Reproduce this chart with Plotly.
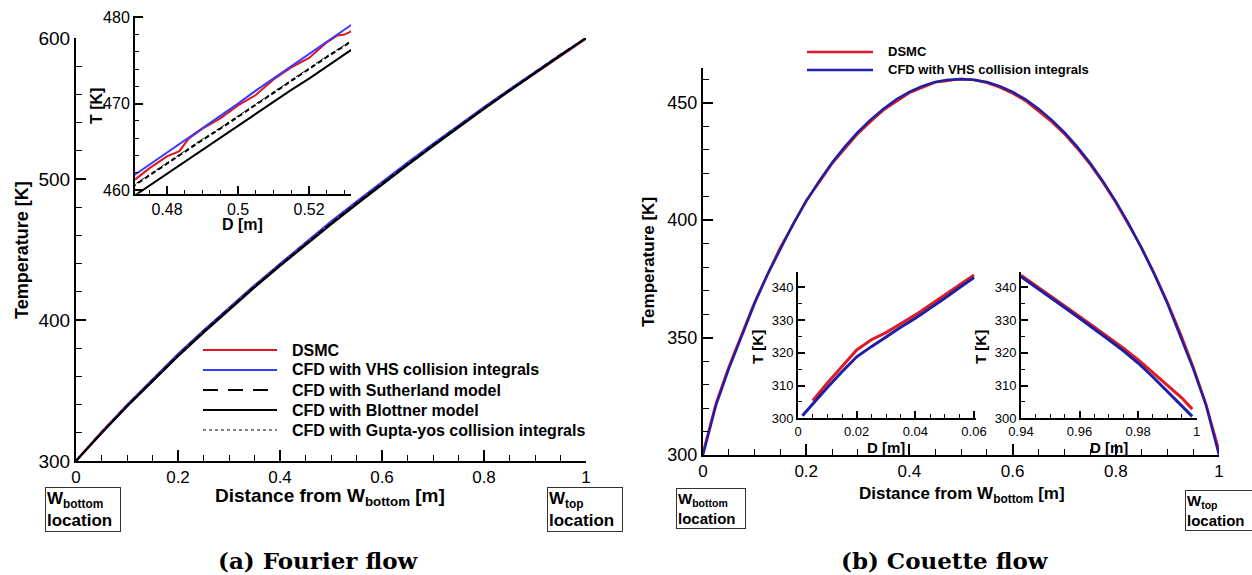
import plotly.graph_objects as go

W, H = 1252, 575


def px(x):
    return x / W


def py(y):
    return 1 - y / H


SANS = "Liberation Sans"

# ---------------- (a) Fourier flow ----------------
fourier_d = [0.00, 0.05, 0.10, 0.15, 0.20, 0.25, 0.30, 0.35, 0.40, 0.45, 0.50,
             0.55, 0.60, 0.65, 0.70, 0.75, 0.80, 0.85, 0.90, 0.95, 1.00]
fourier_dsmc = [300.3, 320.6, 339.8, 358.2, 375.9, 392.4, 408.6, 424.6, 439.6, 454.8, 469.7,
                483.5, 497.4, 511.0, 524.3, 537.3, 549.9, 562.6, 575.0, 587.4, 599.4]
fourier_vhs = [300.0, 320.3, 339.6, 358.0, 375.7, 392.6, 408.7, 424.4, 439.8, 455.0, 469.9,
               484.0, 497.9, 511.6, 524.9, 538.1, 551.0, 563.6, 576.1, 588.3, 600.0]
fourier_sutherland = [300.0, 320.0, 339.1, 357.3, 374.9, 391.8, 408.0, 423.8, 439.0, 454.0, 468.6,
                      482.8, 496.8, 510.6, 524.0, 537.3, 550.3, 563.0, 575.6, 588.0, 600.0]
fourier_blottner = [300.0, 319.7, 338.6, 356.7, 374.2, 391.0, 407.2, 423.0, 438.3, 453.3, 467.8,
                    482.0, 496.0, 509.8, 523.3, 536.6, 549.7, 562.5, 575.2, 587.7, 600.0]
fourier_gupta = [300.0, 320.0, 339.2, 357.4, 375.0, 391.9, 408.1, 423.9, 439.1, 454.1, 468.7,
                 482.9, 496.9, 510.7, 524.1, 537.4, 550.4, 563.1, 575.7, 588.1, 600.0]

# close-up around the channel centre
zoom_d = [0.470, 0.475, 0.480, 0.485, 0.490, 0.495, 0.500,
          0.505, 0.510, 0.515, 0.520, 0.525, 0.530, 0.535]
zoom_vhs = [461.5, 462.9, 464.4, 465.8, 467.2, 468.6, 470.0,
            471.5, 472.9, 474.3, 475.8, 477.2, 478.6, 480.0]
zoom_sutherland = [460.3, 461.7, 463.0, 464.4, 465.8, 467.1, 468.5,
                   469.9, 471.3, 472.6, 474.0, 475.4, 476.7, 478.1]
zoom_gupta = [460.4, 461.8, 463.1, 464.5, 465.9, 467.2, 468.6,
              470.0, 471.4, 472.7, 474.1, 475.5, 476.8, 478.2]
zoom_blottner = [459.1, 460.5, 461.9, 463.3, 464.6, 466.0, 467.4,
                 468.8, 470.2, 471.6, 472.9, 474.3, 475.7, 477.1]
zoom_dsmc_d = [0.471, 0.475, 0.480, 0.4835, 0.486, 0.490, 0.495, 0.500, 0.505,
               0.510, 0.515, 0.520, 0.525, 0.528, 0.530, 0.532, 0.535]
zoom_dsmc = [461.2, 462.5, 463.9, 464.5, 465.9, 467.1, 468.3, 469.8, 471.0,
             472.8, 474.2, 475.3, 477.1, 477.9, 478.0, 478.4, 479.2]

# ---------------- (b) Couette flow ----------------
couette_d = [0.000, 0.025, 0.050, 0.075, 0.100, 0.125, 0.150, 0.175, 0.200, 0.225,
             0.250, 0.275, 0.300, 0.325, 0.350, 0.375, 0.400, 0.425, 0.450, 0.475,
             0.500, 0.525, 0.550, 0.575, 0.600, 0.625, 0.650, 0.675, 0.700, 0.725,
             0.750, 0.775, 0.800, 0.825, 0.850, 0.875, 0.900, 0.925, 0.950, 0.975, 1.000]
couette_vhs = [300.0, 321.0, 336.7, 351.0, 364.5, 376.8, 388.0, 398.5, 408.0, 416.6,
               424.4, 431.3, 437.5, 442.8, 447.5, 451.5, 454.6, 457.1, 458.8, 459.8,
               460.0, 459.8, 458.8, 457.1, 454.6, 451.5, 447.5, 442.8, 437.5, 431.3,
               424.4, 416.6, 408.0, 398.5, 388.0, 376.8, 364.5, 351.0, 336.7, 321.0, 300.0]
couette_dsmc = [301.0, 322.0, 337.6, 351.5, 365.2, 377.0, 388.5, 398.2, 408.4, 416.0,
                424.0, 430.4, 436.8, 442.0, 446.9, 450.6, 454.2, 456.5, 458.7, 459.4,
                460.2, 459.7, 458.5, 456.6, 454.0, 450.8, 446.6, 442.0, 436.8, 430.6,
                423.8, 416.0, 407.5, 398.2, 388.3, 377.2, 365.2, 352.0, 337.6, 321.7, 302.0]

# close-ups next to each wall
wall1_vhs_d = [0.0015, 0.005, 0.010, 0.015, 0.020, 0.025, 0.030,
               0.035, 0.040, 0.045, 0.050, 0.055, 0.060]
wall1_vhs = [300.8, 304.4, 309.4, 314.2, 318.8, 321.9, 324.9,
             327.8, 330.6, 333.6, 336.7, 339.9, 343.0]
wall1_dsmc_d = [0.005, 0.010, 0.015, 0.020, 0.025, 0.030,
                0.035, 0.040, 0.045, 0.050, 0.055, 0.060]
wall1_dsmc = [305.4, 310.8, 315.8, 320.9, 324.0, 326.2,
              328.9, 331.6, 334.6, 337.6, 340.6, 343.8]
wall2_d = [0.940, 0.945, 0.950, 0.955, 0.960, 0.965, 0.970,
           0.975, 0.980, 0.985, 0.990, 0.995, 0.9985]
wall2_vhs = [343.3, 340.2, 337.0, 333.8, 330.6, 327.4, 324.0,
             320.6, 316.9, 312.7, 308.2, 303.6, 300.6]
wall2_dsmc = [343.7, 340.6, 337.4, 334.3, 331.1, 327.9, 324.7,
              321.4, 317.9, 314.0, 310.0, 306.2, 302.8]

RED = "#e3141c"
BLUE_A = "#3a3aff"
RED_B = "#e01b24"
BLUE_B = "#1f1fa6"
BLACK = "#000000"

fig = go.Figure()


def add(x, y, color, width, dash="solid", xa="x", ya="y", name=None):
    fig.add_trace(go.Scatter(x=x, y=y, mode="lines", name=name, showlegend=False,
                             line=dict(color=color, width=width, dash=dash),
                             xaxis=xa, yaxis=ya, hoverinfo="skip"))


# Fourier main
add(fourier_d, fourier_dsmc, RED, 2, name="DSMC")
add(fourier_d, fourier_vhs, BLUE_A, 2, name="CFD with VHS collision integrals")
add(fourier_d, fourier_blottner, BLACK, 2, name="CFD with Blottner model")
add(fourier_d, fourier_sutherland, BLACK, 2, "6px,3px", name="CFD with Sutherland model")
add(fourier_d, fourier_gupta, BLACK, 1, "dot", name="CFD with Gupta-yos collision integrals")

# Fourier close-up
add(zoom_dsmc_d, zoom_dsmc, RED, 2, xa="x3", ya="y3")
add(zoom_d, zoom_vhs, BLUE_A, 2, xa="x3", ya="y3")
add(zoom_d, zoom_blottner, BLACK, 2, xa="x3", ya="y3")
add(zoom_d, zoom_sutherland, BLACK, 2, "5px,3px", xa="x3", ya="y3")
add(zoom_d, zoom_gupta, BLACK, 1, "dot", xa="x3", ya="y3")

# Couette main
add(couette_d, couette_dsmc, RED_B, 2.5, xa="x2", ya="y2", name="DSMC")
add(couette_d, couette_vhs, BLUE_B, 2.5, xa="x2", ya="y2", name="CFD with VHS collision integrals")

# Couette close-ups
add(wall1_dsmc_d, wall1_dsmc, RED_B, 3, xa="x4", ya="y4")
add(wall1_vhs_d, wall1_vhs, BLUE_B, 3, xa="x4", ya="y4")
add(wall2_d, wall2_dsmc, RED_B, 3, xa="x5", ya="y5")
add(wall2_d, wall2_vhs, BLUE_B, 3, xa="x5", ya="y5")


def axis(domain, rng, tickvals, minor_dtick, minor_tick0, size, ticklen=10, minorlen=5,
         ticktext=None, anchor=None):
    d = dict(domain=domain, range=rng, tickmode="array", tickvals=tickvals,
             automargin=False,
             showline=True, linecolor="black", linewidth=2, mirror=False,
             ticks="inside", ticklen=ticklen, tickwidth=2, tickcolor="black",
             showgrid=False, zeroline=False,
             tickfont=dict(family=SANS, size=size, color="black"),
             minor=dict(ticks="inside", ticklen=minorlen, tickwidth=1, tickcolor="black",
                        dtick=minor_dtick, tick0=minor_tick0, showgrid=False),
             anchor=anchor)
    if ticktext is not None:
        d["ticktext"] = ticktext
    return d


layout = dict(
    width=W, height=H, margin=dict(l=0, r=0, t=0, b=0, pad=0, autoexpand=False),
    paper_bgcolor="white", plot_bgcolor="rgba(0,0,0,0)",
    showlegend=False,
    xaxis=axis([px(76), px(586)], [0, 1], [0, 0.2, 0.4, 0.6, 0.8, 1], 0.05, 0, 17, 11, 6,
               ticktext=["0", "0.2", "0.4", "0.6", "0.8", "1"], anchor="y"),
    yaxis=axis([py(461), py(38)], [300, 600], [300, 400, 500, 600], 20, 300, 19, 10, 6,
               anchor="x"),
    xaxis2=axis([px(703), px(1219)], [0, 1], [0, 0.2, 0.4, 0.6, 0.8, 1], 0.05, 0, 17, 11, 6,
                ticktext=["0", "0.2", "0.4", "0.6", "0.8", "1"], anchor="y2"),
    yaxis2=axis([py(455), py(68)], [300, 464.8], [300, 350, 400, 450], 10, 300, 18, 10, 6,
                anchor="x2"),
    xaxis3=axis([px(135), px(351)], [0.471, 0.5318], [0.48, 0.50, 0.52], 0.005, 0.48, 16, 8, 4,
                ticktext=["0.48", "0.5", "0.52"], anchor="y3"),
    yaxis3=axis([py(193.7), py(16)], [459.57, 480.15], [460, 470, 480], 2, 460, 16, 8, 4,
                anchor="x3"),
    xaxis4=axis([px(798), px(975.5)], [0, 0.0605], [0, 0.02, 0.04, 0.06], 0.005, 0, 13, 7, 4,
                ticktext=["0", "0.02", "0.04", "0.06"], anchor="y4"),
    yaxis4=axis([py(418.3), py(271.7)], [300, 344.8], [300, 310, 320, 330, 340], 5, 300, 13, 7, 4,
                anchor="x4"),
    xaxis5=axis([px(1021), px(1196.6)], [0.94, 1.0], [0.94, 0.96, 0.98, 1.0], 0.005, 0.94, 13, 7, 4,
                ticktext=["0.94", "0.96", "0.98", "1"], anchor="y5"),
    yaxis5=axis([py(418.3), py(271.7)], [300, 344.8], [300, 310, 320, 330, 340], 5, 300, 13, 7, 4,
                anchor="x5"),
)
fig.update_layout(**layout)

ann = []


def text(x, y, s, size, bold=True, angle=0, family=SANS, xanchor="center", yanchor="middle", **kw):
    ann.append(dict(x=px(x), y=py(y), xref="paper", yref="paper", text=s, showarrow=False,
                    textangle=angle, xanchor=xanchor, yanchor=yanchor,
                    font=dict(family=family, size=size, color="black",
                              weight="bold" if bold else "normal"), **kw))


# axis titles
text(22, 250, "Temperature [K]", 18, angle=-90)
text(330, 497, "Distance from W<sub>bottom</sub> [m]", 19)
text(96, 106, "T [K]", 16, angle=-90)
text(242, 225, "D [m]", 16)
text(648, 262, "Temperature [K]", 17, angle=-90)
text(962, 495, "Distance from W<sub>bottom</sub> [m]", 17)
text(757, 347, "T [K]", 15, angle=-90)
text(886, 447, "D [m]", 15)
text(980, 347, "T [K]", 15, angle=-90)
text(1109, 447, "D [m]", 15)

# wall location boxes
box = dict(bordercolor="#333333", borderwidth=1, borderpad=1, align="left", bgcolor="white")
text(45, 487, "W<sub>bottom</sub><br>location", 17, xanchor="left", yanchor="top", width=72, **box)
text(547, 487, "W<sub>top</sub><br>location", 17, xanchor="left", yanchor="top", width=72, **box)
text(676, 488, "W<sub>bottom</sub><br>location", 15, xanchor="left", yanchor="top", width=66, **box)
text(1185, 490, "W<sub>top</sub><br>location", 15, xanchor="left", yanchor="top", width=66, **box)

# captions
text(318, 560, "(a) Fourier flow", 23, family="DejaVu Serif")
text(945, 560, "(b) Couette flow", 23, family="DejaVu Serif")

# legends
shapes = []
legend_a = [("DSMC", RED, 2, "solid"),
            ("CFD with VHS collision integrals", BLUE_A, 2, "solid"),
            ("CFD with Sutherland model", BLACK, 2, "15px,10px"),
            ("CFD with Blottner model", BLACK, 2, "solid"),
            ("CFD with Gupta-yos collision integrals", BLACK, 1, "dot")]
for i, (label, color, width, dash) in enumerate(legend_a):
    yy = 350 + 20 * i
    shapes.append(dict(type="line", xref="paper", yref="paper", x0=px(203), x1=px(277),
                       y0=py(yy), y1=py(yy), line=dict(color=color, width=width, dash=dash)))
    text(290, yy, label, 16, xanchor="left")

legend_b = [("DSMC", RED_B), ("CFD with VHS collision integrals", BLUE_B)]
for i, (label, color) in enumerate(legend_b):
    yy = 52 + 18 * i
    shapes.append(dict(type="line", xref="paper", yref="paper", x0=px(807), x1=px(873),
                       y0=py(yy), y1=py(yy), line=dict(color=color, width=2.5)))
    text(886, yy, label, 13, xanchor="left")

fig.update_layout(annotations=ann, shapes=shapes)
fig.write_html("out.html")
